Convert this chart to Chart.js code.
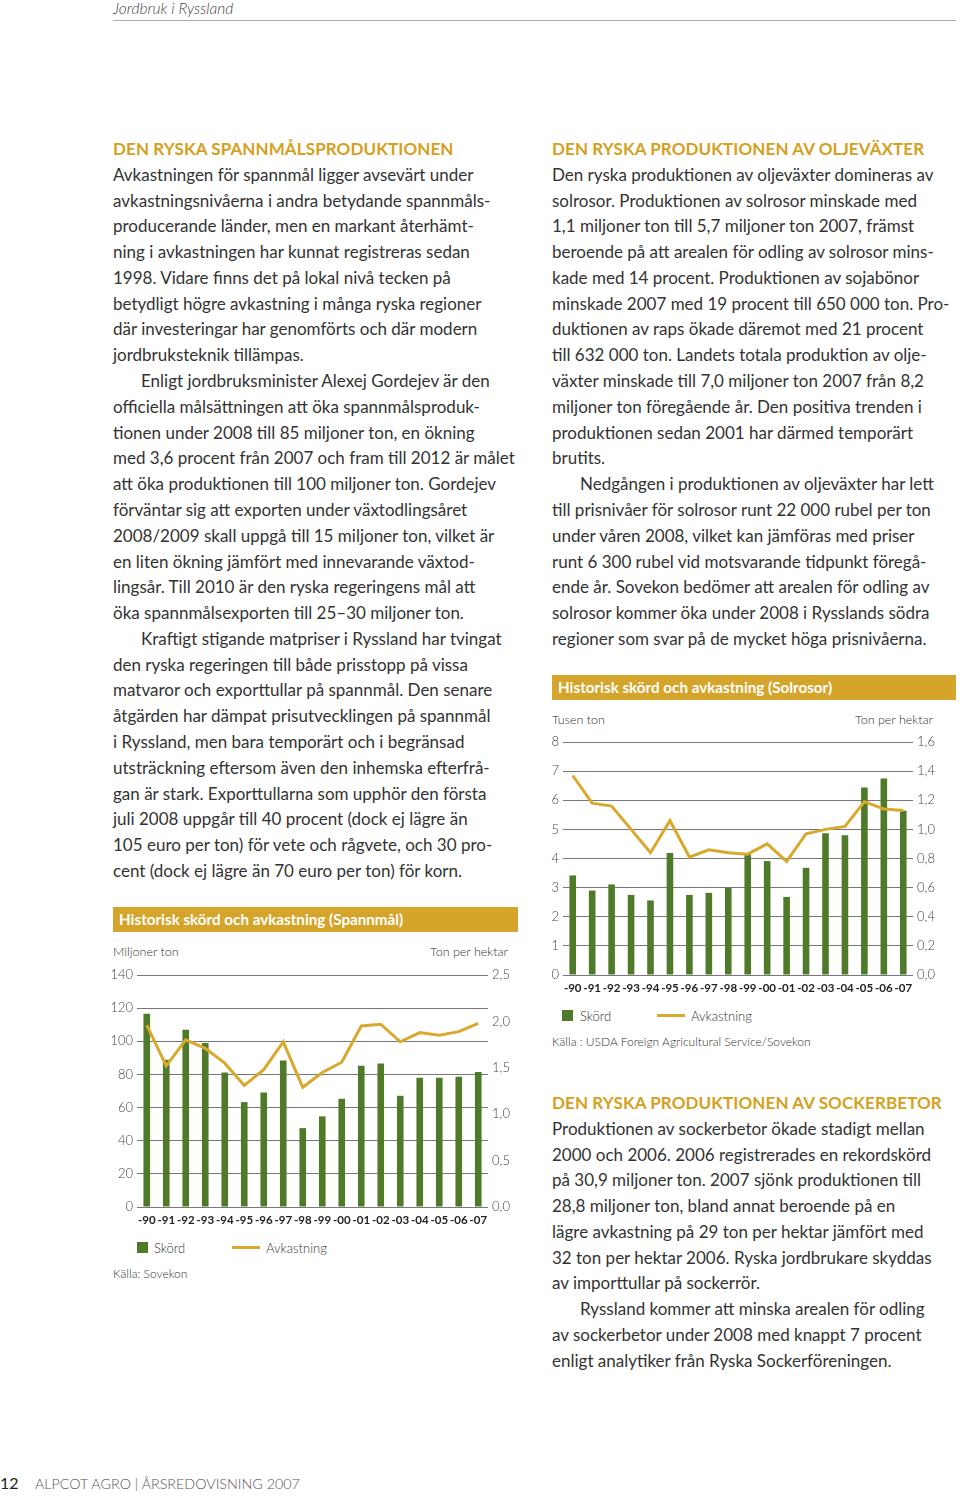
<!DOCTYPE html>
<html lang="sv">
<head>
<meta charset="utf-8">
<title>Jordbruk i Ryssland</title>
<script src="https://cdn.jsdelivr.net/npm/chart.js"></script>
<style>
  html, body { margin: 0; padding: 0; background: #fff; }
  body { width: 960px; height: 1496px; position: relative; overflow: hidden;
         font-family: Lato, "Open Sans", sans-serif; color: #333; }
  .abs { position: absolute; }
  .runhead { left: 113px; top: -1px; font-size: 15.5px; font-style: italic; font-weight: 300; color: #444; }
  .rule { left: 113px; top: 20px; width: 843px; height: 1px; background: #aaa; }
  .col { position: absolute; width: 420px; font-size: 17px; font-weight: 400; line-height: 25.78px; }
  .col div { white-space: nowrap; }
  .col .ind { padding-left: 28px; }
  .col h2 { margin: 0; font-size: 17px; font-weight: 700; color: #d4a020; line-height: 25.78px; letter-spacing: 0.1px; }
  .bar { background: #d5a42a; color: #fff; font-size: 15.2px; font-weight: 700; line-height: 25px; padding-left: 6px; box-sizing: border-box; }
  .unit { font-size: 12.5px; font-weight: 300; color: #333; }
  .legend { font-size: 13px; font-weight: 300; color: #333; }
  .sq { display: inline-block; width: 11px; height: 11px; background: #4e7a29; }
  .ln { display: inline-block; width: 28px; height: 3px; background: #d8a92c; }
  .src { font-size: 12px; font-weight: 300; color: #333; }
  canvas { position: absolute; }
  .foot { top: 1475px; font-size: 14.3px; font-weight: 300; color: #555; }
</style>
</head>
<body>
<div class="abs runhead">Jordbruk i Ryssland</div>
<div class="abs rule"></div>

<div class="col" style="left:113px; top:136px;">
  <h2>DEN RYSKA SPANNMÅLSPRODUKTIONEN</h2>
  <div>Avkastningen för spannmål ligger avsevärt under</div>
  <div>avkastningsnivåerna i andra betydande spannmåls-</div>
  <div>producerande länder, men en markant återhämt-</div>
  <div>ning i avkastningen har kunnat registreras sedan</div>
  <div>1998. Vidare finns det på lokal nivå tecken på</div>
  <div>betydligt högre avkastning i många ryska regioner</div>
  <div>där investeringar har genomförts och där modern</div>
  <div>jordbruksteknik tillämpas.</div>
  <div class="ind">Enligt jordbruksminister Alexej Gordejev är den</div>
  <div>officiella målsättningen att öka spannmålsproduk-</div>
  <div>tionen under 2008 till 85 miljoner ton, en ökning</div>
  <div>med 3,6 procent från 2007 och fram till 2012 är målet</div>
  <div>att öka produktionen till 100 miljoner ton. Gordejev</div>
  <div>förväntar sig att exporten under växtodlingsåret</div>
  <div>2008/2009 skall uppgå till 15 miljoner ton, vilket är</div>
  <div>en liten ökning jämfört med innevarande växtod-</div>
  <div>lingsår. Till 2010 är den ryska regeringens mål att</div>
  <div>öka spannmålsexporten till 25–30 miljoner ton.</div>
  <div class="ind">Kraftigt stigande matpriser i Ryssland har tvingat</div>
  <div>den ryska regeringen till både prisstopp på vissa</div>
  <div>matvaror och exporttullar på spannmål. Den senare</div>
  <div>åtgärden har dämpat prisutvecklingen på spannmål</div>
  <div>i Ryssland, men bara temporärt och i begränsad</div>
  <div>utsträckning eftersom även den inhemska efterfrå-</div>
  <div>gan är stark. Exporttullarna som upphör den första</div>
  <div>juli 2008 uppgår till 40 procent (dock ej lägre än</div>
  <div>105 euro per ton) för vete och rågvete, och 30 pro-</div>
  <div>cent (dock ej lägre än 70 euro per ton) för korn.</div>
</div>

<div class="col" style="left:552px; top:136px;">
  <h2>DEN RYSKA PRODUKTIONEN AV OLJEVÄXTER</h2>
  <div>Den ryska produktionen av oljeväxter domineras av</div>
  <div>solrosor. Produktionen av solrosor minskade med</div>
  <div>1,1 miljoner ton till 5,7 miljoner ton 2007, främst</div>
  <div>beroende på att arealen för odling av solrosor mins-</div>
  <div>kade med 14 procent. Produktionen av sojabönor</div>
  <div>minskade 2007 med 19 procent till 650 000 ton. Pro-</div>
  <div>duktionen av raps ökade däremot med 21 procent</div>
  <div>till 632 000 ton. Landets totala produktion av olje-</div>
  <div>växter minskade till 7,0 miljoner ton 2007 från 8,2</div>
  <div>miljoner ton föregående år. Den positiva trenden i</div>
  <div>produktionen sedan 2001 har därmed temporärt</div>
  <div>brutits.</div>
  <div class="ind">Nedgången i produktionen av oljeväxter har lett</div>
  <div>till prisnivåer för solrosor runt 22 000 rubel per ton</div>
  <div>under våren 2008, vilket kan jämföras med priser</div>
  <div>runt 6 300 rubel vid motsvarande tidpunkt föregå-</div>
  <div>ende år. Sovekon bedömer att arealen för odling av</div>
  <div>solrosor kommer öka under 2008 i Rysslands södra</div>
  <div>regioner som svar på de mycket höga prisnivåerna.</div>
</div>

<div class="col" style="left:552px; top:1090px;">
  <h2>DEN RYSKA PRODUKTIONEN AV SOCKERBETOR</h2>
  <div>Produktionen av sockerbetor ökade stadigt mellan</div>
  <div>2000 och 2006. 2006 registrerades en rekordskörd</div>
  <div>på 30,9 miljoner ton. 2007 sjönk produktionen till</div>
  <div>28,8 miljoner ton, bland annat beroende på en</div>
  <div>lägre avkastning på 29 ton per hektar jämfört med</div>
  <div>32 ton per hektar 2006. Ryska jordbrukare skyddas</div>
  <div>av importtullar på sockerrör.</div>
  <div class="ind">Ryssland kommer att minska arealen för odling</div>
  <div>av sockerbetor under 2008 med knappt 7 procent</div>
  <div>enligt analytiker från Ryska Sockerföreningen.</div>
</div>

<!-- Solrosor chart -->
<div class="abs bar" style="left:552px; top:675px; width:404px; height:25px;">Historisk skörd och avkastning (Solrosor)</div>
<div class="abs unit" style="left:552px; top:712px;">Tusen ton</div>
<div class="abs unit" style="left:733px; width:200px; text-align:right; top:712px;">Ton per hektar</div>
<canvas id="sun-chart" width="400" height="272" style="left:545px; top:728px;"></canvas>
<div class="abs legend" style="left:562px; top:1008px;"><span class="sq"></span><span style="margin-left:7px;">Skörd</span></div>
<div class="abs legend" style="left:657px; top:1008px;"><span class="ln" style="vertical-align:4px;"></span><span style="margin-left:6px;">Avkastning</span></div>
<div class="abs src" style="left:552px; top:1034px;">Källa : USDA Foreign Agricultural Service/Sovekon</div>

<!-- Spannmål chart -->
<div class="abs bar" style="left:113px; top:907px; width:405px; height:25px;">Historisk skörd och avkastning (Spannmål)</div>
<div class="abs unit" style="left:113px; top:944px;">Miljoner ton</div>
<div class="abs unit" style="left:308px; width:200px; text-align:right; top:944px;">Ton per hektar</div>
<canvas id="grain-chart" width="410" height="272" style="left:108px; top:960px;"></canvas>
<div class="abs legend" style="left:137px; top:1240px;"><span class="sq"></span><span style="margin-left:6px;">Skörd</span></div>
<div class="abs legend" style="left:232px; top:1240px;"><span class="ln" style="vertical-align:4px;"></span><span style="margin-left:6px;">Avkastning</span></div>
<div class="abs src" style="left:113px; top:1266px;">Källa: Sovekon</div>

<div class="abs foot" style="left:0; font-size:16px; font-weight:400; color:#222; top:1473px;">12</div>
<div class="abs foot" style="left:35px;">ALPCOT AGRO | ÅRSREDOVISNING 2007</div>

<script>
const years = ["-90", "-91", "-92", "-93", "-94", "-95", "-96", "-97", "-98",
               "-99", "-00", "-01", "-02", "-03", "-04", "-05", "-06", "-07"];

// Spannmål: skörd (miljoner ton) och avkastning (ton per hektar)
const grainHarvest = [116.6, 88.8, 106.9, 98.9, 81.2, 63.3, 69.1, 88.4, 47.6,
                      54.7, 65.3, 85.2, 86.6, 67.1, 78.0, 78.0, 78.6, 81.4];
const grainYield = [1.96, 1.52, 1.80, 1.71, 1.55, 1.31, 1.48, 1.78, 1.29,
                    1.45, 1.56, 1.95, 1.97, 1.78, 1.88, 1.85, 1.89, 1.98];

// Solrosor: skörd (tusen ton) och avkastning (ton per hektar)
const sunHarvest = [3.42, 2.90, 3.11, 2.75, 2.56, 4.19, 2.75, 2.82, 2.99,
                    4.14, 3.91, 2.68, 3.68, 4.87, 4.80, 6.44, 6.75, 5.64];
const sunYield = [1.37, 1.18, 1.16, 1.00, 0.84, 1.06, 0.81, 0.86, 0.84,
                  0.83, 0.90, 0.78, 0.97, 1.00, 1.02, 1.19, 1.14, 1.13];

const GREEN = "#4e7a29";
const GOLD = "#d8a92c";
const GRID = "#777";

function comma(v) {
    return v.toFixed(1).replace(".", ",");
}

function makeChart(id, harvest, yieldData, leftMax, leftStep, rightMax, rightStep, dims) {
    const el = document.getElementById(id);
    if (!el) {
        return;
    }
    return new Chart(el.getContext("2d"), {
        type: "bar",
        data: {
            labels: years,
            datasets: [
                {
                    type: "line",
                    data: yieldData,
                    yAxisID: "y1",
                    borderColor: GOLD,
                    borderWidth: 3,
                    pointRadius: 0,
                    tension: 0,
                    order: 0,
                },
                {
                    data: harvest,
                    yAxisID: "y",
                    backgroundColor: GREEN,
                    barPercentage: 0.34,
                    categoryPercentage: 1,
                    order: 1,
                },
            ],
        },
        options: {
            responsive: false,
            devicePixelRatio: 1,
            animation: false,
            layout: { padding: { top: dims.top, left: 0, right: 0, bottom: 0 } },
            plugins: { legend: { display: false }, tooltip: { enabled: false } },
            scales: {
                x: {
                    offset: true,
                    grid: { display: false, drawTicks: false },
                    border: { display: false },
                    ticks: {
                        color: "#222",
                        padding: 6,
                        maxRotation: 0,
                        autoSkip: false,
                        font: { family: "Lato", size: 11.5, weight: "700" },
                    },
                    afterFit: (s) => { s.height = dims.bottom; },
                },
                y: {
                    position: "left",
                    min: 0,
                    max: leftMax,
                    ticks: {
                        stepSize: leftStep,
                        padding: 4,
                        color: "#444",
                        font: { family: "Lato", size: 13, weight: "300" },
                    },
                    grid: { color: GRID, lineWidth: 1, drawTicks: false },
                    border: { display: false },
                    afterFit: (s) => { s.width = dims.left; },
                },
                y1: {
                    position: "right",
                    min: 0,
                    max: rightMax,
                    ticks: {
                        stepSize: rightStep,
                        padding: 4,
                        color: "#444",
                        font: { family: "Lato", size: 13, weight: "300" },
                        callback: (v) => comma(v),
                    },
                    grid: { display: false, drawTicks: false },
                    border: { display: false },
                    afterFit: (s) => { s.width = dims.right; },
                },
            },
        },
    });
}

// chart area: x 137-488, y 975-1207 (page coords)
makeChart("grain-chart", grainHarvest, grainYield, 140, 20, 2.5, 0.5,
          { top: 15, bottom: 25, left: 29, right: 30 });
// chart area: x 563-913, y 742-975 (page coords)
makeChart("sun-chart", sunHarvest, sunYield, 8, 1, 1.6, 0.2,
          { top: 14, bottom: 25, left: 18, right: 32 });
</script>
</body>
</html>
